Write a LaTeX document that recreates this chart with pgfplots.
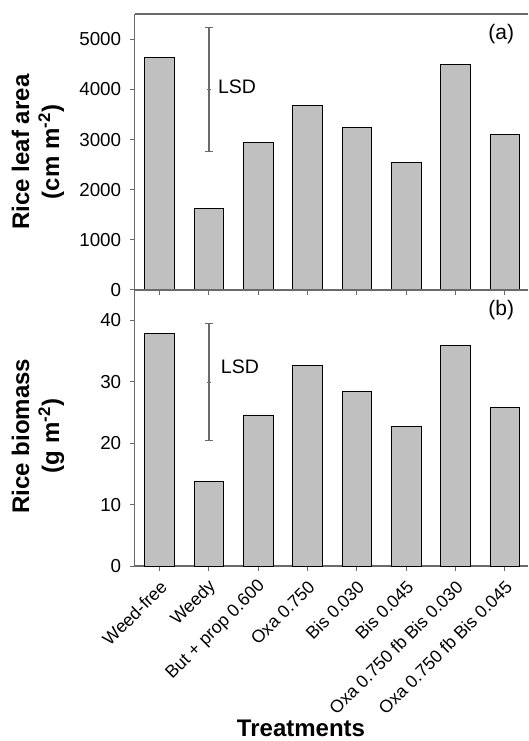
\documentclass[border=0pt]{standalone}
\usepackage{fontspec}
\setmainfont{Liberation Sans}
\usepackage{pgfplots}
\pgfplotsset{compat=1.18}
\definecolor{barfill}{HTML}{C0C0C0}
\definecolor{axgray}{HTML}{6A6A6A}
\begin{document}
\begin{tikzpicture}
\pgfplotsset{
 common/.style={
  scale only axis, width=393.2pt, height=276pt,
  xmin=-0.505, xmax=7.47, ymin=0,
  axis x line=box, axis y line=left,
  axis line style={-, draw=axgray, line width=1.3pt},
  tick align=outside,
  major tick length=5pt,
  xtick pos=left, ytick pos=left,
  tick style={draw=axgray, line width=1pt},
  yticklabel style={font=\fontsize{18.8}{22}\selectfont, xshift=-5pt},
  /pgf/number format/assume math mode=true,
  /pgf/number format/1000 sep={},
  xtick={0,...,7},
  clip=false,
  ylabel style={align=center, font=\bfseries\fontsize{24}{30}\selectfont, anchor=center},
 },
 bars/.style={ybar, bar width=29.6pt, fill=barfill, draw=black, line width=0.8pt},
 lsd/.style={only marks, draw=axgray, mark=-, mark size=2pt, mark options={draw=axgray, line width=1pt},
   error bars/.cd, y dir=both, y explicit,
   error bar style={line width=1.2pt, draw=axgray},
   error mark=-,
   error mark options={rotate=90, mark size=4pt, draw=axgray, line width=1pt}},
}
% upper panel (a)
\begin{axis}[common, at={(0,276pt)}, anchor=south west,
  ymax=5505, ytick={0,1000,...,5000},
  xticklabels={},
  ylabel={Rice leaf area\\(cm m\textsuperscript{-2})},
  ylabel style={at={(axis description cs:-0.246,0.5)}},
]
\addplot[bars] coordinates {(0,4640) (1,1622) (2,2938) (3,3676) (4,3251) (5,2539) (6,4501) (7,3105)};
\addplot[lsd] coordinates {(1,4002) +- (0,1230)};
\node[font=\fontsize{19.5}{23}\selectfont] at (axis cs:1.57,4049) {LSD};
\node[font=\fontsize{21}{25}\selectfont] at (axis cs:6.93,5106) {(a)};
\end{axis}
% lower panel (b)
\begin{axis}[common, at={(0,0)}, anchor=south west,
  ymax=44.95, ytick={0,10,...,40},
  xticklabels={Weed-free, Weedy, But + prop 0.600, Oxa 0.750, Bis 0.030, Bis 0.045, Oxa 0.750 fb Bis 0.030, Oxa 0.750 fb Bis 0.045},
  xticklabel style={font=\fontsize{17.7}{20}\selectfont, rotate=45, anchor=east, inner sep=1pt, yshift=-12pt, xshift=-5pt},
  ylabel={Rice biomass\\(g m\textsuperscript{-2})},
  ylabel style={at={(axis description cs:-0.246,0.471)}},
  xlabel={Treatments},
  xlabel style={at={(axis description cs:0.423,-0.589)}, anchor=center, font=\bfseries\fontsize{24}{29}\selectfont},
]
\addplot[bars] coordinates {(0,37.9) (1,13.8) (2,24.6) (3,32.7) (4,28.4) (5,22.8) (6,35.9) (7,25.8)};
\addplot[lsd] coordinates {(1,29.95) +- (0,9.55)};
\node[font=\fontsize{19.5}{23}\selectfont] at (axis cs:1.63,32.5) {LSD};
\node[font=\fontsize{21}{25}\selectfont] at (axis cs:6.93,41.7) {(b)};
\end{axis}
\pgfresetboundingbox
\path (-134.7pt,-175pt) rectangle (393.3pt,566pt);
\end{tikzpicture}
\end{document}
